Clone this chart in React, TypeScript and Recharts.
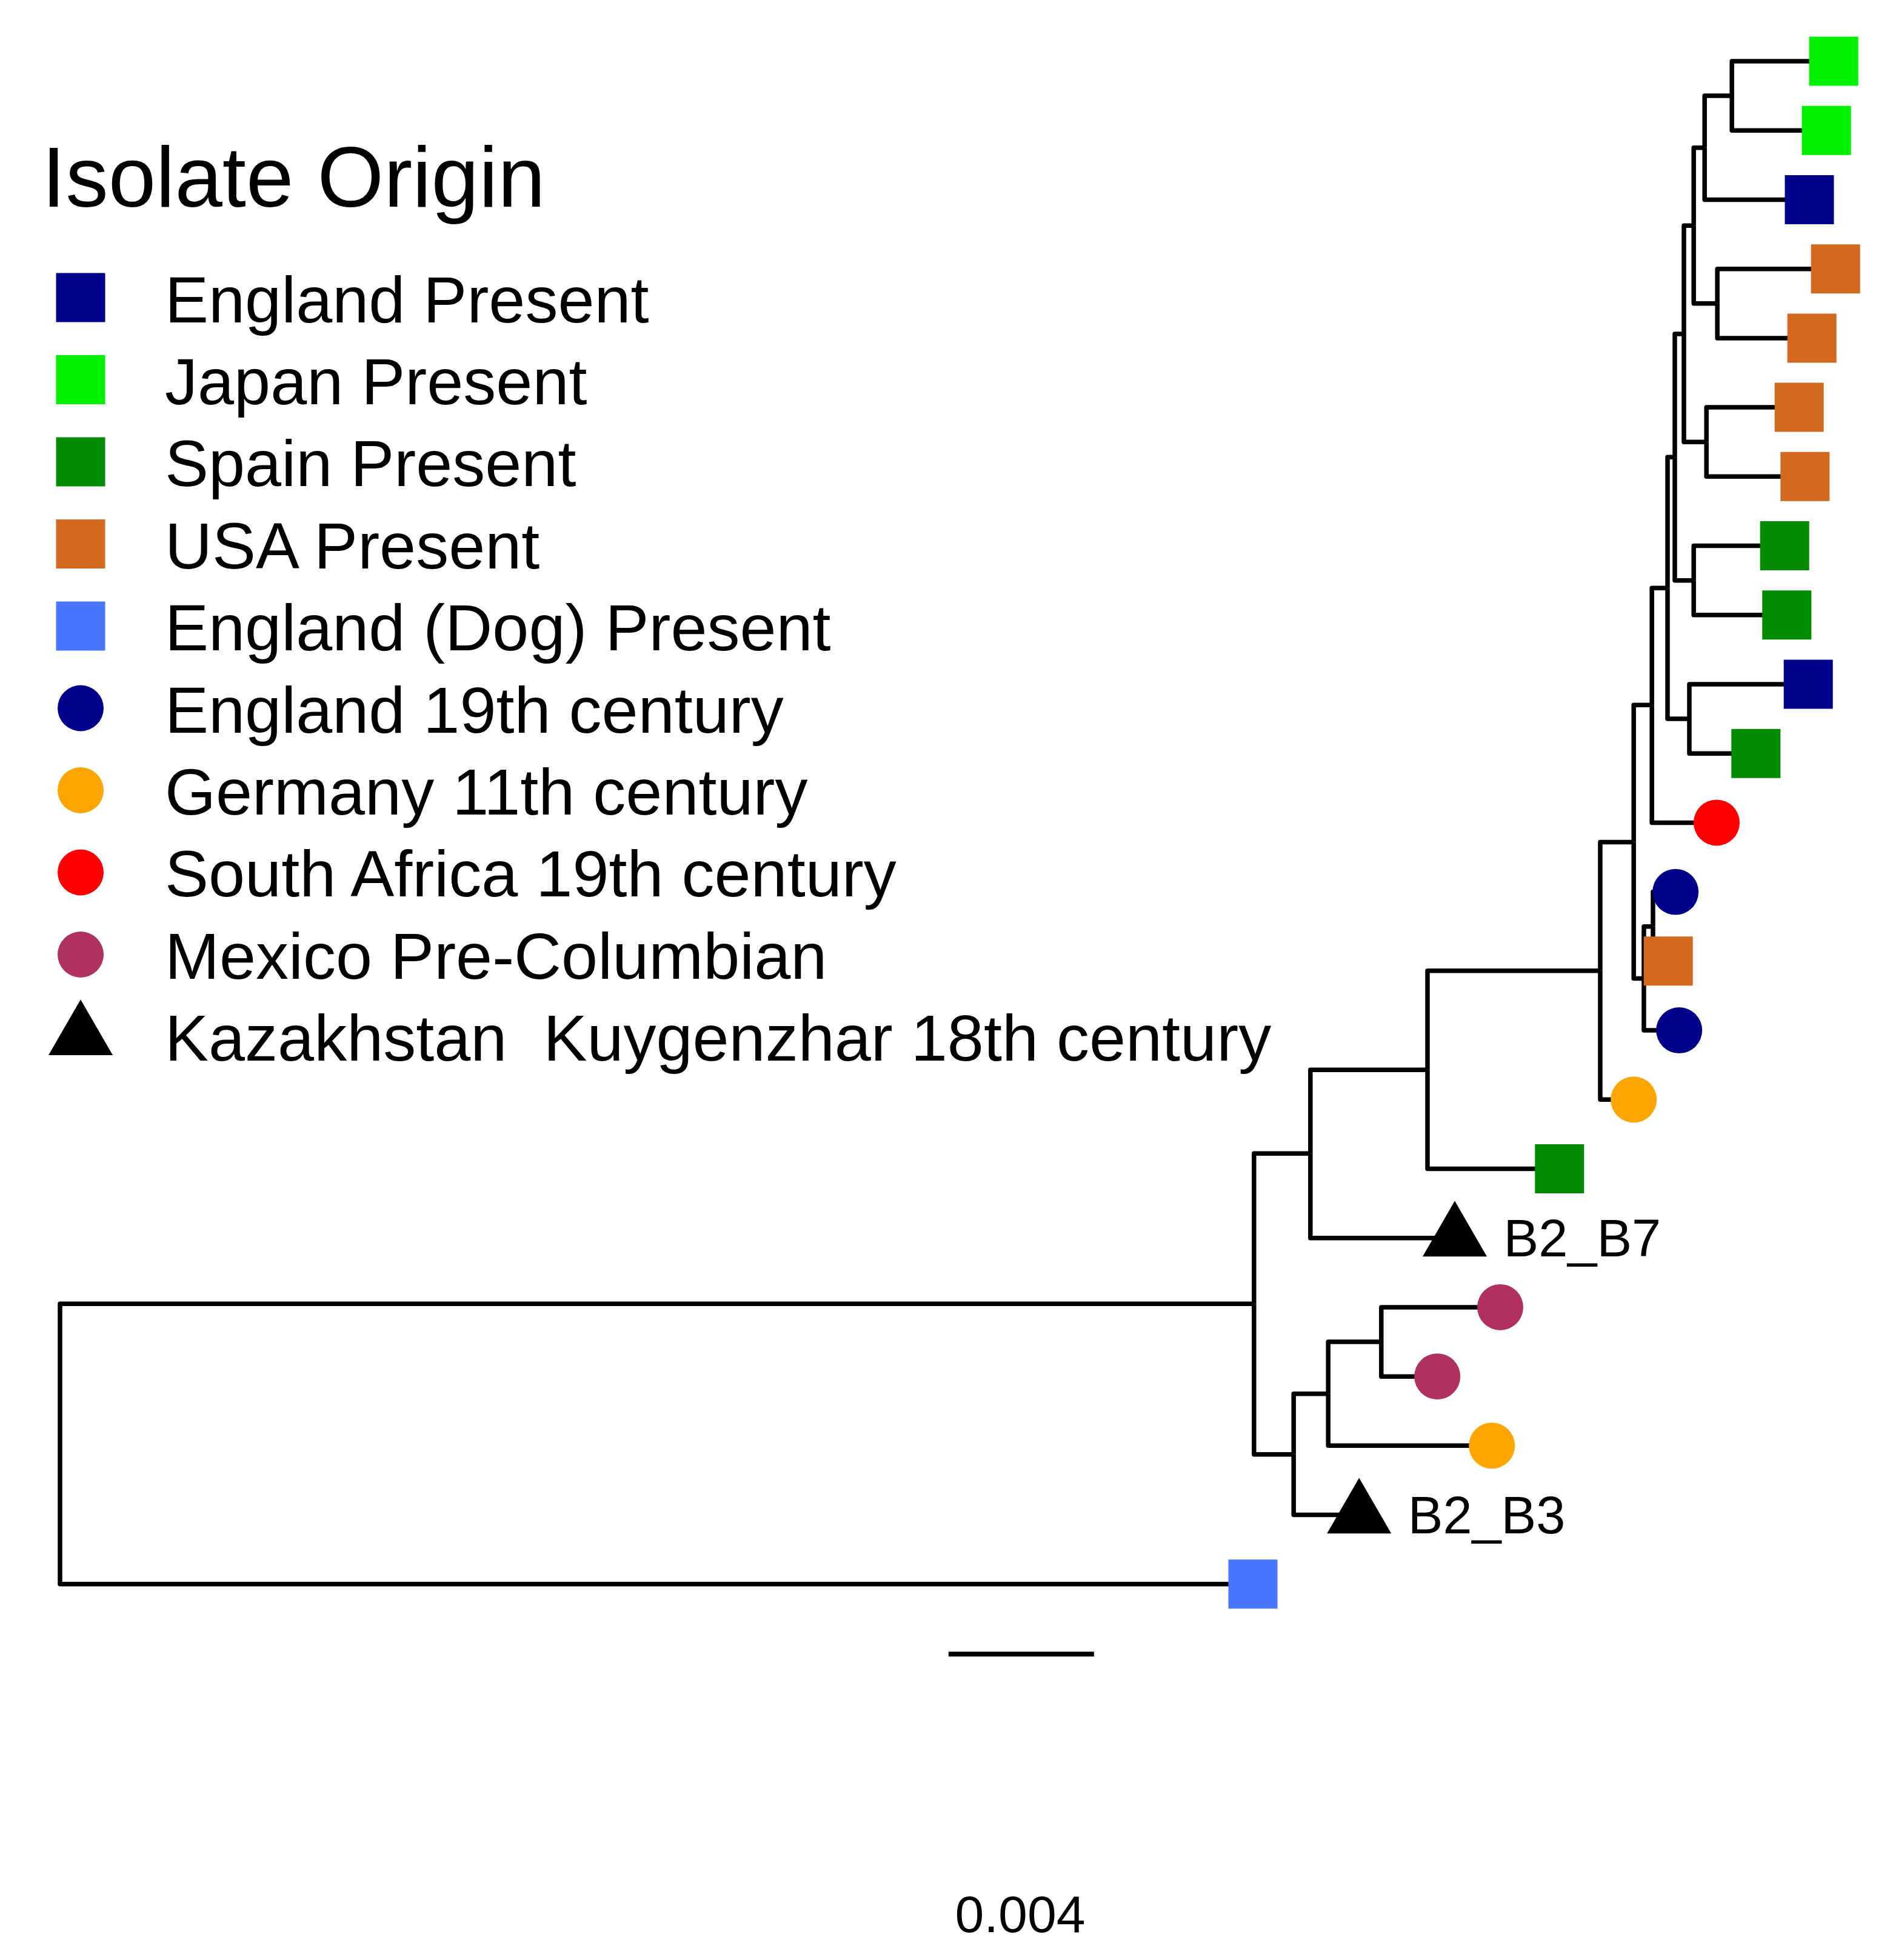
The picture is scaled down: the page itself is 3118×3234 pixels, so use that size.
import { LabelList, Legend, Scatter, ScatterChart, Symbols, XAxis, YAxis } from "recharts";

const WIDTH = 3118;
const HEIGHT = 3234;
const FONT = "'Liberation Sans', Arial, sans-serif";

// depth is in units of 0.001 along the tree, row is the vertical slot (tips sit on 1..23)
const X_DOMAIN = [-1.65, 50.317];
const Y_DOMAIN = [0.1156, 28.43];

const groupNames = [
  "England Present",
  "Japan Present",
  "Spain Present",
  "USA Present",
  "England (Dog) Present",
  "England 19th century",
  "Germany 11th century",
  "South Africa 19th century",
  "Mexico Pre-Columbian",
  "Kazakhstan  Kuygenzhar 18th century",
];
const groupColors = [
  "#00008B",
  "#00F000",
  "#008B00",
  "#D2691E",
  "#4876FF",
  "#00008B",
  "#FFA500",
  "#FF0000",
  "#B03060",
  "#000000",
];
const groupSymbols = [
  "square",
  "square",
  "square",
  "square",
  "square",
  "circle",
  "circle",
  "circle",
  "circle",
  "triangle",
];

const tipDepth = [
  48.77, 48.57, 48.1, 48.82, 48.17, 47.82, 47.98, 47.42, 47.48, 48.07, 46.63, 45.55, 44.42, 44.22,
  44.52, 43.27, 41.23, 38.35, 39.6, 37.87, 39.37, 35.72, 32.8,
];
const tipRow = [1, 2, 3, 4, 5, 6, 7, 8, 9, 10, 11, 12, 13, 14, 15, 16, 17, 18, 19, 20, 21, 22, 23];
const tipGroup = [1, 1, 0, 3, 3, 3, 3, 2, 2, 0, 2, 7, 5, 3, 5, 6, 2, 9, 8, 8, 6, 9, 4];
const tipLabel = ["", "", "", "", "", "", "", "", "", "", "", "", "", "", "", "", "", "B2_B7", "", "", "", "B2_B3", ""];
const tipParent = ["A", "A", "B", "D", "D", "F", "F", "H", "H", "K", "K", "L", "O", "O", "N", "P", "Q", "R", "V", "V", "U", "T", "root"];

const nodeNames = ["root", "S", "R", "Q", "P", "M", "L", "J", "G", "E", "C", "B", "A", "D", "F", "H", "K", "N", "O", "T", "U", "V"];
const nodeDepth = [0, 32.83, 34.38, 37.6, 42.35, 43.27, 43.77, 44.2, 44.4, 44.65, 44.92, 45.22, 45.97, 45.57, 45.27, 44.92, 44.8, 43.55, 43.8, 33.92, 34.87, 36.33];
const nodeRow = [20.98, 18.95, 16.78, 15.57, 14.14, 12.28, 10.3, 8.61, 6.72, 4.94, 3.375, 2.25, 1.5, 4.5, 6.5, 8.5, 10.5, 14.25, 13.5, 21.125, 20.25, 19.5];
const nodeParent = ["", "root", "S", "R", "Q", "P", "M", "L", "J", "G", "E", "C", "B", "C", "E", "G", "J", "M", "N", "S", "T", "U"];

const scaleBarDepth = [24.43, 28.43];
const scaleBarRow = 24.01;
const scaleText = "0.004";
const scaleTextDepth = 26.4;
const scaleTextRow = 27.76;

const parentPoint = (name: string) => {
  const i = nodeNames.indexOf(name);
  return { x: nodeDepth[i], y: nodeRow[i] };
};

const elbow = (parent: string, depth: number, row: number) => {
  const p = parentPoint(parent);
  return [p, { x: p.x, y: row }, { x: depth, y: row }];
};

const branches = [
  ...nodeNames
    .map((_, i) => (nodeParent[i] ? elbow(nodeParent[i], nodeDepth[i], nodeRow[i]) : null))
    .filter(Boolean),
  ...tipDepth.map((d, i) => elbow(tipParent[i], d, tipRow[i])),
];

const tipsOfGroup = (g: number) =>
  tipDepth
    .map((d, i) => ({ x: d, y: tipRow[i], group: tipGroup[i], label: tipLabel[i] }))
    .filter((t) => t.group === g);

const symbolSize = (type: string) => {
  if (type === "square") return 6561;
  if (type === "circle") return 4536;
  return 4865;
};

const noMarker = () => null;

const renderLegend = () => (
  <svg width={2300} height={1800} style={{ display: "block" }}>
    <text x={69} y={341} fontSize={141} fontFamily={FONT} fill="#000">
      Isolate Origin
    </text>
    {groupNames.map((name, i) => (
      <g key={name}>
        <Symbols
          cx={133}
          cy={491 + i * 135.5}
          type={groupSymbols[i] as "square"}
          size={symbolSize(groupSymbols[i])}
          fill={groupColors[i]}
        />
        <text
          x={272}
          y={531.5 + i * 135.4}
          fontSize={108}
          fontFamily={FONT}
          fill="#000"
          style={{ whiteSpace: "pre" }}
        >
          {name}
        </text>
      </g>
    ))}
  </svg>
);

export default function App() {
  return (
    <div style={{ position: "absolute", left: 0, top: 0, width: WIDTH, height: HEIGHT, background: "#fff" }}>
      <ScatterChart width={WIDTH} height={HEIGHT} margin={{ top: 0, right: 0, bottom: 0, left: 0 }}>
        <XAxis type="number" dataKey="x" domain={X_DOMAIN} hide />
        <YAxis type="number" dataKey="y" domain={Y_DOMAIN} reversed hide />
        <Legend
          layout="horizontal"
          align="center"
          verticalAlign="middle"
          content={renderLegend}
          wrapperStyle={{ left: 0, top: 0, width: 2300, height: 1800 }}
        />
        {branches.map((points, i) => (
          <Scatter
            key={`branch-${i}`}
            data={points as { x: number; y: number }[]}
            line={{ stroke: "#000", strokeWidth: 7.5, strokeLinejoin: "round", strokeLinecap: "butt" }}
            shape={noMarker}
            legendType="none"
            isAnimationActive={false}
          />
        ))}
        <Scatter
          data={scaleBarDepth.map((x) => ({ x, y: scaleBarRow }))}
          line={{ stroke: "#000", strokeWidth: 8 }}
          shape={noMarker}
          isAnimationActive={false}
        />
        {groupNames.map((name, g) => (
          <Scatter
            key={name}
            name={name}
            data={tipsOfGroup(g)}
            fill={groupColors[g]}
            isAnimationActive={false}
            shape={(p: { cx?: number; cy?: number }) => (
              <Symbols
                cx={p.cx}
                cy={p.cy}
                type={groupSymbols[g] as "square"}
                size={symbolSize(groupSymbols[g])}
                fill={groupColors[g]}
              />
            )}
          >
            {g === 9 ? (
              <LabelList dataKey="label" position="right" offset={76} fontSize={86.5} fontFamily={FONT} fill="#000" />
            ) : null}
          </Scatter>
        ))}
        <Scatter
          data={[{ x: scaleTextDepth, y: scaleTextRow, label: scaleText }]}
          shape={noMarker}
          isAnimationActive={false}
        >
          <LabelList dataKey="label" position="center" fontSize={86} fontFamily={FONT} fill="#000" />
        </Scatter>
      </ScatterChart>
    </div>
  );
}
